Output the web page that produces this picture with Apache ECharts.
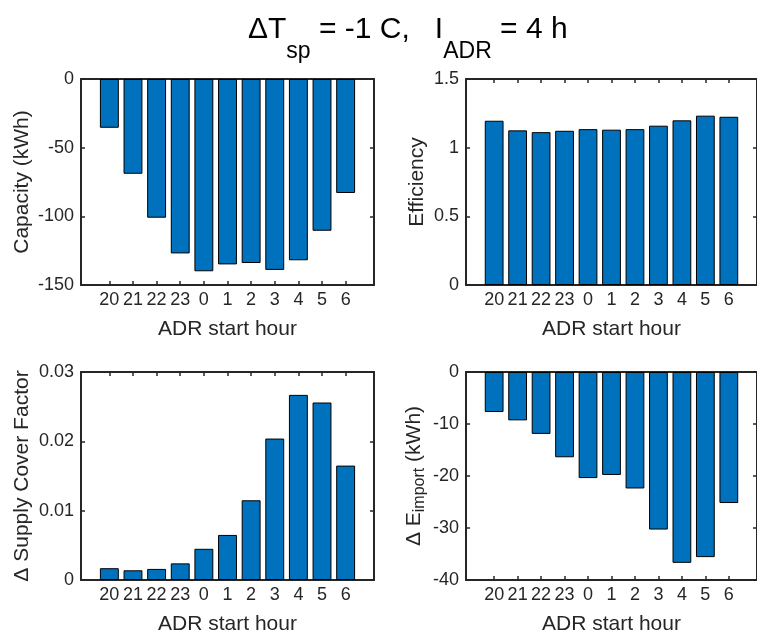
<!DOCTYPE html>
<html>
<head>
<meta charset="utf-8">
<script src="https://cdn.jsdelivr.net/npm/echarts@6/dist/echarts.min.js"></script>
<style>
  html, body { margin: 0; padding: 0; background: #ffffff; }
  #chart { width: 757px; height: 636px; }
</style>
</head>
<body>
<div id="chart"></div>
<script>
// ADR start hours (x categories, placed at positions 1..11)
const startHours = ['20', '21', '22', '23', '0', '1', '2', '3', '4', '5', '6'];

// Series values per start hour
const capacity = [-35.5, -69, -101, -127, -140, -135, -134, -139, -132, -110.5, -83];
const efficiency = [1.196, 1.126, 1.113, 1.123, 1.135, 1.131, 1.135, 1.160, 1.199, 1.233, 1.225];
const supplyCoverDelta = [0.0017, 0.0014, 0.0016, 0.0024, 0.0045, 0.0065, 0.0115, 0.0204, 0.0267, 0.0256, 0.0165];
const importDelta = [-7.7, -9.3, -11.9, -16.4, -20.4, -19.8, -22.4, -30.3, -36.7, -35.6, -25.2];

// Y axis ranges: [min, max, interval]
const capacityRange = [-150, 0, 50];
const efficiencyRange = [0, 1.5, 0.5];
const supplyCoverRange = [0, 0.03, 0.01];
const importRange = [-40, 0, 10];

const INK = '#262626';
const BAR = '#0072BD';
const FONT = '"Liberation Sans", Arial, Helvetica, sans-serif';
const TICK_FONT = 18;
const LABEL_FONT = 21;

const positions = startHours.map((_, i) => i + 1);
const xMin = -0.2, xMax = 12.2;

const panels = [
  { grid: { left: 81, top: 79, width: 293, height: 206 }, values: capacity, range: capacityRange,
    yName: 'Capacity (kWh)', yNameGap: 48 },
  { grid: { left: 466, top: 79, width: 295, height: 206 }, values: efficiency, range: efficiencyRange,
    yName: 'Efficiency', yNameGap: 38 },
  { grid: { left: 81, top: 372, width: 293, height: 208 }, values: supplyCoverDelta, range: supplyCoverRange,
    yName: 'Δ Supply Cover Factor', yNameGap: 48 },
  { grid: { left: 466, top: 372, width: 295, height: 208 }, values: importDelta, range: importRange,
    yName: '{t|Δ E}{sub|import}{t| (kWh)}', yNameGap: 38 }
];

const fmtNum = v => String(Math.round(v * 10000) / 10000);

const lineStyle = { color: INK, width: 2 };
const tickStyle = { color: INK, width: 1.5 };

const grids = [], xAxes = [], yAxes = [], series = [];

panels.forEach((p, i) => {
  grids.push(Object.assign({ containLabel: false }, p.grid));

  // bottom x axis with hour labels
  xAxes.push({
    type: 'value', gridIndex: i, position: 'bottom', min: xMin, max: xMax,
    axisLine: { show: true, onZero: false, lineStyle: lineStyle },
    axisTick: { show: true, inside: true, length: 4, customValues: positions, lineStyle: tickStyle },
    axisLabel: {
      show: true, customValues: positions, margin: 6,
      formatter: v => startHours[Math.round(v) - 1] || '',
      color: INK, fontFamily: FONT, fontSize: TICK_FONT
    },
    splitLine: { show: false },
    name: 'ADR start hour', nameLocation: 'middle', nameGap: 34,
    nameTextStyle: { color: INK, fontFamily: FONT, fontSize: LABEL_FONT }
  });
  // top x axis (box edge with mirrored ticks)
  xAxes.push({
    type: 'value', gridIndex: i, position: 'top', min: xMin, max: xMax,
    axisLine: { show: true, onZero: false, lineStyle: lineStyle },
    axisTick: { show: true, inside: true, length: 4, customValues: positions, lineStyle: tickStyle },
    axisLabel: { show: false },
    splitLine: { show: false }
  });

  const [ymin, ymax, yint] = p.range;
  yAxes.push({
    type: 'value', gridIndex: i, position: 'left', min: ymin, max: ymax, interval: yint,
    axisLine: { show: true, onZero: false, lineStyle: lineStyle },
    axisTick: { show: true, inside: true, length: 4, lineStyle: tickStyle },
    axisLabel: { show: true, margin: 7, formatter: fmtNum, color: INK, fontFamily: FONT, fontSize: TICK_FONT },
    splitLine: { show: false },
    name: p.yName, nameLocation: 'middle', nameRotate: 90, nameGap: p.yNameGap,
    nameTextStyle: {
      color: INK, fontFamily: FONT, fontSize: LABEL_FONT,
      rich: {
        t: { color: INK, fontFamily: FONT, fontSize: LABEL_FONT, lineHeight: 28 },
        sub: { color: INK, fontFamily: FONT, fontSize: 16, lineHeight: 12, verticalAlign: 'bottom' }
      }
    }
  });
  yAxes.push({
    type: 'value', gridIndex: i, position: 'right', min: ymin, max: ymax, interval: yint,
    axisLine: { show: true, onZero: false, lineStyle: lineStyle },
    axisTick: { show: true, inside: true, length: 4, lineStyle: tickStyle },
    axisLabel: { show: false },
    splitLine: { show: false }
  });

  series.push({
    type: 'bar',
    xAxisIndex: i * 2, yAxisIndex: i * 2,
    data: p.values.map((v, k) => [positions[k], v]),
    barWidth: '80%',
    itemStyle: { color: BAR, borderColor: '#000000', borderWidth: 1 },
    emphasis: { disabled: true },
    animation: false,
    silent: true,
    z: 1
  });
});

const chart = echarts.init(document.getElementById('chart'), null, { renderer: 'canvas' });
chart.setOption({
  backgroundColor: '#ffffff',
  animation: false,
  title: {
    text: '{m|ΔT}{s|sp}{m| = -1 C,   I}{s|ADR}{m| = 4 h}',
    left: 243, top: 10,
    textStyle: {
      fontWeight: 'normal',
      rich: {
        m: { color: '#000000', fontFamily: FONT, fontSize: 30, fontWeight: 'normal', lineHeight: 48, verticalAlign: 'top' },
        s: { color: '#000000', fontFamily: FONT, fontSize: 23, fontWeight: 'normal', lineHeight: 38, verticalAlign: 'bottom' }
      }
    }
  },
  grid: grids,
  xAxis: xAxes,
  yAxis: yAxes,
  series: series
});
</script>
</body>
</html>
